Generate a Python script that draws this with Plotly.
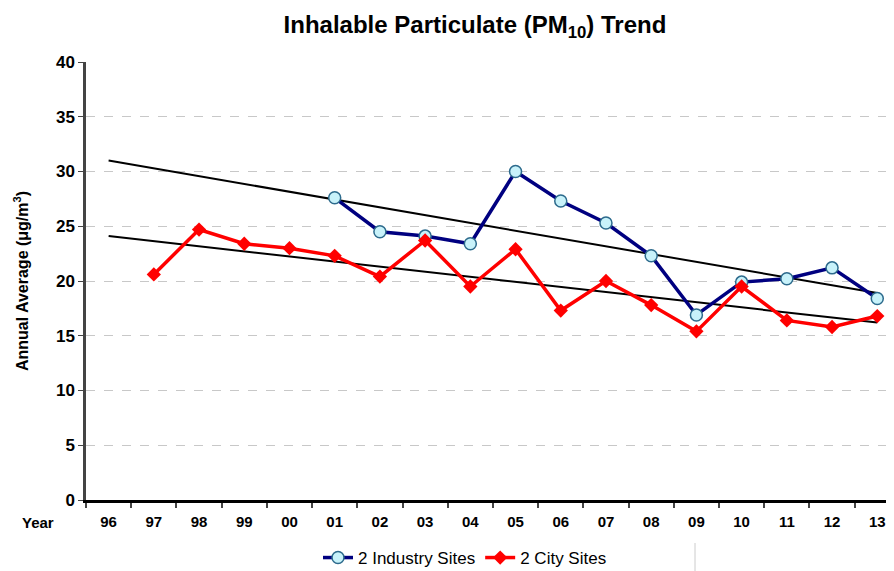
import plotly.graph_objects as go

years = ["96", "97", "98", "99", "00", "01", "02", "03", "04", "05", "06", "07", "08", "09", "10", "11", "12", "13"]
industry = [None, None, None, None, None, 27.6, 24.5, 24.1, 23.4, 30.0, 27.3, 25.3, 22.3, 16.9, 19.9, 20.2, 21.2, 18.4]
city = [None, 20.6, 24.7, 23.4, 23.0, 22.3, 20.4, 23.7, 19.5, 22.9, 17.3, 20.0, 17.8, 15.4, 19.5, 16.4, 15.8, 16.8]
industry_trend = [31.0, 18.9]   # values at 96 and 13
city_trend = [24.1, 16.2]

# page body has an 8px margin, so the figure is drawn 8px in from the top-left corner
OFF = 8
W, H = 894 - OFF, 571 - OFF
L, T = 86 - OFF, 62 - OFF
B = H - (500 - OFF)
PH = H - T - B
idx = list(range(len(years)))
FONT = "Liberation Sans, Arial, sans-serif"


def px(x):
    return (x - OFF) / W


def py(y):
    return (500 - y) / PH


fig = go.Figure()
fig.add_trace(go.Scatter(x=[idx[0], idx[-1]], y=industry_trend, mode="lines",
                         line=dict(color="black", width=2), showlegend=False, hoverinfo="skip"))
fig.add_trace(go.Scatter(x=[idx[0], idx[-1]], y=city_trend, mode="lines",
                         line=dict(color="black", width=2), showlegend=False, hoverinfo="skip"))
fig.add_trace(go.Scatter(x=idx, y=industry, mode="lines+markers", name="2 Industry Sites",
                         line=dict(color="#000080", width=3.5),
                         marker=dict(symbol="circle", size=12, color="#c8f2fa",
                                     line=dict(color="#2c6a8c", width=1.5))))
fig.add_trace(go.Scatter(x=idx, y=city, mode="lines+markers", name="2 City Sites",
                         line=dict(color="#ff0000", width=3.5),
                         marker=dict(symbol="diamond", size=11, color="#ff0000")))

fig.update_layout(
    width=W, height=H,
    margin=dict(l=0, r=0, t=T, b=B, autoexpand=False),
    paper_bgcolor="white", plot_bgcolor="white",
    font=dict(family=FONT, color="black", size=14),
    title=dict(text="<b>Inhalable Particulate (PM<sub>10</sub>) Trend</b>",
               x=px(475), xanchor="center", y=1 - (25 - OFF) / H, yanchor="middle",
               font=dict(size=24, family=FONT)),
    showlegend=True,
    legend=dict(orientation="h", x=px(465), xanchor="center", y=py(558), yanchor="middle",
                font=dict(size=17, family=FONT), bgcolor="rgba(0,0,0,0)", itemwidth=30,
                tracegroupgap=0),
    xaxis=dict(domain=[L / W, 1], range=[-0.5, 17.37], tickmode="array", tickvals=idx, ticktext=years,
               ticks="", showgrid=False, zeroline=False, automargin=False,
               showline=True, linecolor="black", linewidth=3,
               tickfont=dict(size=15, family=FONT, weight="bold"), ticklabelstandoff=6,
               minor=dict(tickmode="array", tickvals=[i - 0.5 for i in idx] + [17.5],
                          ticks="outside", ticklen=5, tickcolor="#444", tickwidth=1.5, showgrid=False)),
    yaxis=dict(range=[0, 40], dtick=5, tickmode="linear", tick0=0, automargin=False,
               showgrid=True, gridcolor="#c8c8c8", griddash="dash", gridwidth=1,
               zeroline=False, showline=True, linecolor="#444", linewidth=2.5,
               ticks="outside", ticklen=5, tickcolor="#444",
               tickfont=dict(size=17, family=FONT, weight="bold"),
               title=dict(text="<b>Annual Average (μg/m<sup>3</sup>)</b>", standoff=24,
                          font=dict(size=16, family=FONT))),
)

fig.add_annotation(text="<b>Year</b>", x=px(38), y=py(522), xref="paper", yref="paper",
                   showarrow=False, font=dict(size=15, family=FONT), xanchor="center", yanchor="middle")
fig.add_shape(type="line", xref="paper", yref="paper", x0=px(695), x1=px(695),
              y0=py(543), y1=py(571), line=dict(color="#cccccc", width=1))

fig.write_html("out.html")
